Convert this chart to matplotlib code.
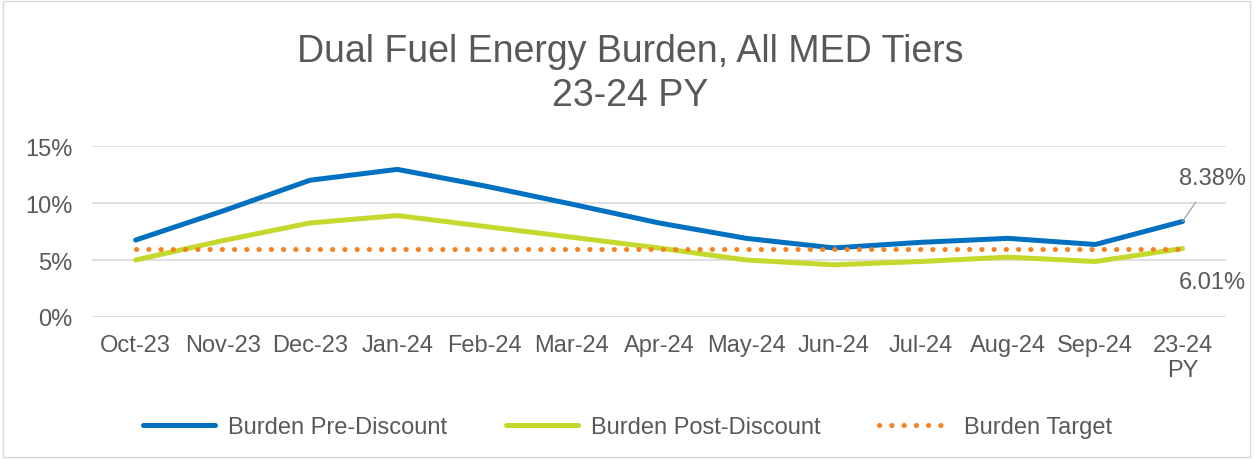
import matplotlib.pyplot as plt
from matplotlib.patches import Rectangle

plt.rcParams['font.family'] = ['Liberation Sans', 'DejaVu Sans']

months = ['Oct-23', 'Nov-23', 'Dec-23', 'Jan-24', 'Feb-24', 'Mar-24', 'Apr-24',
          'May-24', 'Jun-24', 'Jul-24', 'Aug-24', 'Sep-24', '23-24\nPY']
pre_discount = [6.75, 9.3, 12.0, 12.95, 11.5, 9.9, 8.25, 6.9, 6.06, 6.55, 6.9, 6.36, 8.38]
post_discount = [5.0, 6.7, 8.25, 8.9, 7.95, 7.0, 6.05, 5.0, 4.58, 4.87, 5.25, 4.87, 6.01]
target = [6.0] * 13

grey = '#595959'
fig = plt.figure(figsize=(12.55, 4.6), dpi=100)
ax = fig.add_axes([0.0733, 0.3087, 0.9037, 0.3717])

x = range(len(months))
ax.plot(x, [v / 100 for v in pre_discount], color='#0070C0', lw=3.6,
        solid_capstyle='round', label='Burden Pre-Discount', zorder=3)
ax.plot(x, [v / 100 for v in post_discount], color='#C4D82E', lw=3.6,
        solid_capstyle='round', label='Burden Post-Discount', zorder=3)
ax.plot(x, [v / 100 for v in target], color='#F58220', lw=3.6,
        linestyle=(0, (0.05, 2.4)), dash_capstyle='round', label='Burden Target', zorder=4)

ax.set_xlim(-0.5, len(months) - 0.5)
ax.set_ylim(0, 0.15)
ax.set_yticks([0, 0.05, 0.10, 0.15])
ax.set_yticklabels(['0%', '5%', '10%', '15%'])
ax.set_xticks(list(x))
ax.set_xticklabels(months)
ax.tick_params(length=0, labelsize=17, colors=grey)
ax.tick_params(axis='x', pad=12)
ax.tick_params(axis='y', pad=14)
ax.grid(axis='y', color='#D9D9D9', lw=1.2)
ax.set_axisbelow(True)
for s in ax.spines.values():
    s.set_visible(False)

# data labels for the last point
ax.annotate(f'{pre_discount[-1]:.2f}%', xy=(12, pre_discount[-1] / 100),
            xytext=(12.34, 0.122), textcoords='data', fontsize=17, color=grey,
            ha='center', va='center',
            arrowprops=dict(arrowstyle='-', color='#A6A6A6', lw=1,
                            shrinkA=9, shrinkB=0))
ax.text(12.34, 0.031, f'{post_discount[-1]:.2f}%', fontsize=17, color=grey,
        ha='center', va='center')

fig.text(0.502, 0.84, 'Dual Fuel Energy Burden, All MED Tiers\n23-24 PY',
         ha='center', va='center', fontsize=27, color=grey, linespacing=1.28)

leg = fig.legend(loc='center', bbox_to_anchor=(0.5, 0.07), ncol=3, frameon=False,
                 fontsize=17, handlelength=3.05, columnspacing=2.5, handletextpad=0.55)
for t in leg.get_texts():
    t.set_color(grey)

fig.patches.append(Rectangle((0.002, 0.004), 0.994, 0.992, transform=fig.transFigure,
                             fill=False, edgecolor='#D9D9D9', lw=1))

fig.savefig('out.png', dpi=100)
